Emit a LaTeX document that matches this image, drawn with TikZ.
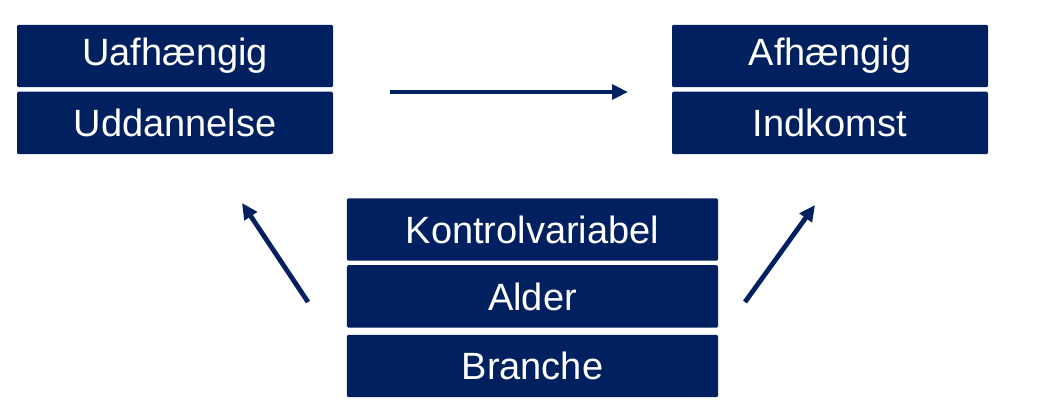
\documentclass[tikz,border=0pt]{standalone}
\usepackage{fontspec}
\setmainfont{Liberation Sans}
\usetikzlibrary{arrows.meta,positioning}
\definecolor{navy}{HTML}{002060}

\begin{document}
\begin{tikzpicture}[
  x=0.75pt, y=0.75pt,
  node distance=3pt,
  box/.style={fill=navy, text=white, rounded corners=1pt, minimum height=46.8pt,
              minimum width=237pt, inner sep=0pt, font=\fontsize{28.5}{34}\selectfont},
  widebox/.style={box, minimum width=278.3pt},
  link/.style={draw=navy, line width=3.6pt, -{Triangle[length=12pt,width=11pt]}}]
\useasboundingbox (0,0) rectangle (1053,412);
\node[box] (uafh) at (175,356) {Uafhængig};
\node[box, below=of uafh] (udd) {Uddannelse};
\node[box] (afh) at (830,356) {Afhængig};
\node[box, below=of afh] (ind) {Indkomst};
\node[widebox] (kontrol) at (532.5,182.5) {Kontrolvariabel};
\node[widebox, below=of kontrol] (alder) {Alder};
\node[widebox, below=5pt of alder] (branche) {Branche};
% arrow ends
\coordinate (hfrom) at (390,320);
\coordinate (hto) at (628,320);
\coordinate (lfrom) at (308,110);
\coordinate (lto) at (242,209);
\coordinate (rfrom) at (745,110);
\coordinate (rto) at (815,207);
\draw[link] (hfrom) -- (hto);
\draw[link] (lfrom) -- (lto);
\draw[link] (rfrom) -- (rto);
\end{tikzpicture}
\end{document}
